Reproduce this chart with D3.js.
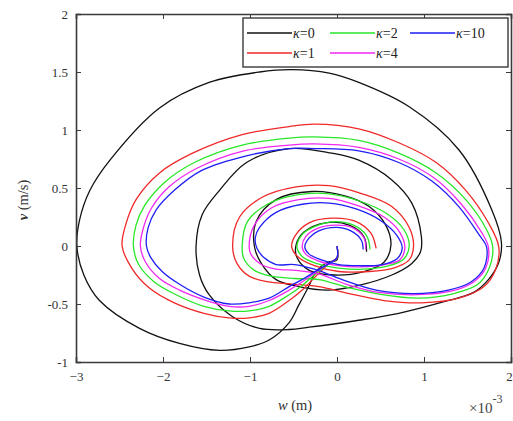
<!DOCTYPE html>
<html><head><meta charset="utf-8">
<script src="https://cdn.jsdelivr.net/npm/d3@7/dist/d3.min.js"></script>
<style>body{margin:0;background:#fff}svg{display:block}svg text{font-family:"Liberation Serif","Times New Roman","DejaVu Serif",serif !important}</style>
</head><body><svg id="c" width="513" height="421"></svg>
<script>
const wTicks = [-3,-2,-1,0,1,2];
const vTicks = [-1,-0.5,0,0.5,1,1.5,2];
const seriesNames = ["0","1","2","4","10"];
const k0 = [[0,0],[0,-0.12],[-0.11,-0.14],[-0.24,-0.22],[-0.32,-0.34],[-0.44,-0.51],[-0.55,-0.66],[-0.78,-0.81],[-1.01,-0.87],[-1.35,-0.90],[-1.81,-0.84],[-2.27,-0.71],[-2.73,-0.47],[-2.91,-0.25],[-2.99,0],[-2.96,0.22],[-2.84,0.48],[-2.61,0.74],[-2.04,1.19],[-1.47,1.41],[-0.89,1.50],[-0.52,1.52],[-0.09,1.49],[0.25,1.41],[0.83,1.20],[1.40,0.83],[1.78,0.31],[1.89,0.03],[1.86,-0.14],[1.74,-0.29],[1.57,-0.40],[1.23,-0.48],[0.71,-0.58],[0.25,-0.64],[-0.32,-0.70],[-0.55,-0.72],[-0.89,-0.71],[-1.20,-0.61],[-1.47,-0.42],[-1.58,-0.25],[-1.62,0],[-1.55,0.27],[-1.35,0.48],[-1.04,0.72],[-0.55,0.84],[-0.06,0.80],[0.25,0.74],[0.63,0.57],[0.86,0.37],[0.97,0.08],[0.96,-0.05],[0.86,-0.15],[0.63,-0.25],[0.25,-0.34],[-0.09,-0.38],[-0.44,-0.35],[-0.70,-0.29],[-0.87,-0.15],[-0.95,0],[-0.93,0.21],[-0.70,0.40],[-0.29,0.47],[0.10,0.43],[0.37,0.34],[0.56,0.18],[0.62,0.01],[0.54,-0.14],[0.31,-0.22],[-0.03,-0.25],[-0.32,-0.21],[-0.46,-0.10],[-0.47,0.01],[-0.38,0.12],[-0.13,0.20],[0.14,0.18],[0.31,0.08],[0.34,-0.05]];
const k1 = [[0,0],[0,-0.10],[-0.09,-0.15],[-0.23,-0.25],[-0.40,-0.38],[-0.55,-0.47],[-0.78,-0.58],[-1.01,-0.62],[-1.24,-0.62],[-1.53,-0.58],[-1.87,-0.49],[-2.16,-0.36],[-2.36,-0.19],[-2.47,0],[-2.43,0.18],[-2.31,0.40],[-2.04,0.63],[-1.66,0.80],[-1.09,0.96],[-0.55,1.03],[-0.26,1.05],[0.25,1.01],[0.71,0.89],[1.14,0.72],[1.48,0.48],[1.74,0.20],[1.86,-0.01],[1.82,-0.21],[1.69,-0.35],[1.40,-0.45],[0.97,-0.49],[0.54,-0.47],[0.14,-0.41],[-0.21,-0.35],[-0.49,-0.33],[-0.78,-0.31],[-1.01,-0.26],[-1.15,-0.15],[-1.20,0],[-1.12,0.25],[-0.86,0.42],[-0.47,0.51],[-0.09,0.52],[0.29,0.45],[0.63,0.34],[0.83,0.16],[0.88,0],[0.83,-0.12],[0.65,-0.19],[0.37,-0.22],[0.02,-0.22],[-0.26,-0.17],[-0.44,-0.10],[-0.52,-0.01],[-0.48,0.09],[-0.32,0.20],[-0.06,0.24],[0.22,0.21],[0.39,0.11],[0.45,-0.02]];
const k2 = [[0,0],[0,-0.10],[-0.09,-0.15],[-0.23,-0.23],[-0.40,-0.34],[-0.55,-0.42],[-0.78,-0.52],[-1.01,-0.56],[-1.24,-0.56],[-1.53,-0.52],[-1.85,-0.42],[-2.10,-0.31],[-2.28,-0.16],[-2.34,0],[-2.31,0.18],[-2.21,0.35],[-1.98,0.55],[-1.64,0.72],[-1.09,0.87],[-0.55,0.93],[-0.26,0.94],[0.25,0.91],[0.71,0.80],[1.14,0.63],[1.48,0.40],[1.72,0.14],[1.79,-0.01],[1.75,-0.19],[1.62,-0.33],[1.34,-0.41],[0.94,-0.45],[0.52,-0.42],[0.14,-0.36],[-0.21,-0.29],[-0.49,-0.28],[-0.76,-0.26],[-0.95,-0.21],[-1.07,-0.11],[-1.09,0],[-1.03,0.21],[-0.80,0.36],[-0.46,0.44],[-0.09,0.45],[0.25,0.39],[0.57,0.28],[0.77,0.14],[0.83,0],[0.77,-0.11],[0.60,-0.17],[0.31,-0.20],[0.02,-0.19],[-0.24,-0.15],[-0.40,-0.09],[-0.46,-0.01],[-0.41,0.09],[-0.28,0.16],[-0.03,0.21],[0.19,0.18],[0.34,0.09],[0.38,-0.03]];
const k4 = [[0,0],[0,-0.10],[-0.09,-0.15],[-0.23,-0.22],[-0.38,-0.30],[-0.55,-0.38],[-0.78,-0.47],[-1.01,-0.52],[-1.24,-0.52],[-1.50,-0.47],[-1.81,-0.38],[-2.04,-0.28],[-2.20,-0.14],[-2.26,0],[-2.22,0.17],[-2.13,0.33],[-1.93,0.51],[-1.61,0.67],[-1.07,0.82],[-0.55,0.87],[-0.26,0.88],[0.25,0.85],[0.71,0.75],[1.11,0.59],[1.43,0.36],[1.66,0.12],[1.74,-0.01],[1.71,-0.19],[1.57,-0.31],[1.31,-0.39],[0.92,-0.42],[0.48,-0.40],[0.11,-0.33],[-0.21,-0.24],[-0.47,-0.21],[-0.70,-0.20],[-0.87,-0.16],[-0.99,-0.07],[-1.01,0],[-0.95,0.18],[-0.75,0.33],[-0.44,0.40],[-0.09,0.41],[0.23,0.35],[0.54,0.25],[0.72,0.12],[0.78,-0.02],[0.72,-0.12],[0.55,-0.16],[0.28,-0.18],[0.02,-0.17],[-0.21,-0.13],[-0.36,-0.07],[-0.40,-0.01],[-0.36,0.08],[-0.23,0.15],[-0.02,0.18],[0.17,0.16],[0.31,0.07],[0.33,-0.03]];
const k10 = [[0,0],[0,-0.10],[-0.09,-0.15],[-0.23,-0.21],[-0.38,-0.28],[-0.55,-0.35],[-0.78,-0.45],[-1.01,-0.49],[-1.24,-0.50],[-1.53,-0.44],[-1.81,-0.33],[-2.01,-0.22],[-2.14,-0.10],[-2.19,0],[-2.17,0.16],[-2.08,0.31],[-1.87,0.48],[-1.56,0.65],[-1.03,0.78],[-0.55,0.84],[-0.26,0.84],[0.25,0.82],[0.71,0.72],[1.09,0.56],[1.40,0.34],[1.63,0.10],[1.72,-0.01],[1.69,-0.19],[1.54,-0.31],[1.28,-0.38],[0.88,-0.41],[0.45,-0.38],[0.06,-0.29],[-0.26,-0.20],[-0.49,-0.16],[-0.70,-0.16],[-0.84,-0.10],[-0.92,-0.02],[-0.94,0.07],[-0.89,0.16],[-0.70,0.29],[-0.40,0.36],[-0.09,0.37],[0.22,0.32],[0.50,0.22],[0.69,0.09],[0.75,-0.02],[0.69,-0.11],[0.52,-0.16],[0.25,-0.17],[0.02,-0.16],[-0.18,-0.12],[-0.32,-0.07],[-0.37,-0.01],[-0.32,0.07],[-0.21,0.13],[-0.01,0.16],[0.16,0.13],[0.28,0.05],[0.30,-0.03]];

const svg = d3.select("#c");
const L=76, R=511, T=14, B=362;
const x = d3.scaleLinear().domain([-3,2]).range([L,R]);
const y = d3.scaleLinear().domain([-1,2]).range([B,T]);
const axisColor="#3a3a3a";
const FONT = '"Liberation Serif","Times New Roman","DejaVu Serif",serif';

const plot = svg.append("g");
const line = d3.line().x(d=>x(d[0])).y(d=>y(d[1])).curve(d3.curveCatmullRom.alpha(0.5));
const series = [
  {name:"0", data:k0, color:"#111111"},
  {name:"1", data:k1, color:"#f02828"},
  {name:"2", data:k2, color:"#28e628"},
  {name:"4", data:k4, color:"#f028f0"},
  {name:"10", data:k10, color:"#1e1ef5"}
];
series.forEach(s=>{
  plot.append("path").attr("d",line(s.data)).attr("fill","none")
    .attr("stroke",s.color).attr("stroke-width",1.3).attr("stroke-linejoin","round");
});

// axes (MATLAB box, inward ticks)
const tl=5;
const gx = svg.append("g").attr("transform",`translate(0,${B})`)
  .call(d3.axisBottom(x).tickValues(wTicks).tickSize(-tl).tickPadding(10).tickFormat(d3.format("d")));
const gxt = svg.append("g").attr("transform",`translate(0,${T})`)
  .call(d3.axisTop(x).tickValues(wTicks).tickSize(-tl).tickFormat(""));
const gy = svg.append("g").attr("transform",`translate(${L},0)`)
  .call(d3.axisLeft(y).tickValues(vTicks).tickSize(-tl).tickPadding(8).tickFormat(d=>String(d)));
const gyr = svg.append("g").attr("transform",`translate(${R},0)`)
  .call(d3.axisRight(y).tickValues(vTicks).tickSize(-tl).tickFormat(""));
[gx,gxt,gy,gyr].forEach(g=>{
  g.attr("font-family",FONT);
  g.select(".domain").attr("stroke",axisColor).attr("stroke-width",1.6);
  g.selectAll(".tick line").attr("stroke",axisColor).attr("stroke-width",1);
  g.selectAll(".tick text").attr("fill","#333").attr("font-family",FONT).attr("font-size","13px");
});
gx.selectAll(".tick text").filter(d=>d===2).attr("dx","-2");

// axis labels
svg.append("text").attr("x",295).attr("y",410).attr("text-anchor","middle")
  .attr("fill","#333").attr("font-family",FONT).attr("font-size","14.5px")
  .html('<tspan font-style="italic">w</tspan> (m)');
svg.append("text").attr("transform","translate(28,200) rotate(-90)").attr("text-anchor","middle")
  .attr("fill","#333").attr("font-family",FONT).attr("font-size","14.5px")
  .html('<tspan font-style="italic" font-weight="bold">v</tspan> (m/s)');
svg.append("text").attr("x",469).attr("y",413).attr("fill","#444").attr("font-family",FONT).attr("font-size","15px")
  .html('×10<tspan dy="-10" font-size="12px">-3</tspan>');

// legend
const lg = svg.append("g");
lg.append("rect").attr("x",243).attr("y",18).attr("width",265).attr("height",49)
  .attr("fill","#fff").attr("stroke",axisColor).attr("stroke-width",1.4);
const legPos = [
  {i:0,lx:247,row:0},{i:2,lx:330,row:0},{i:4,lx:410,row:0},
  {i:1,lx:247,row:1},{i:3,lx:330,row:1}
];
legPos.forEach(p=>{
  const s=series[p.i]; const yy = 33 + p.row*20;
  lg.append("line").attr("x1",p.lx).attr("x2",p.lx+45).attr("y1",yy).attr("y2",yy)
    .attr("stroke",s.color).attr("stroke-width",1.4);
  lg.append("text").attr("x",p.lx+46).attr("y",yy+4.5).attr("fill","#222")
    .attr("font-family",FONT).attr("font-size","14px")
    .html('<tspan font-style="italic">κ</tspan>='+s.name);
});
</script></body></html>
